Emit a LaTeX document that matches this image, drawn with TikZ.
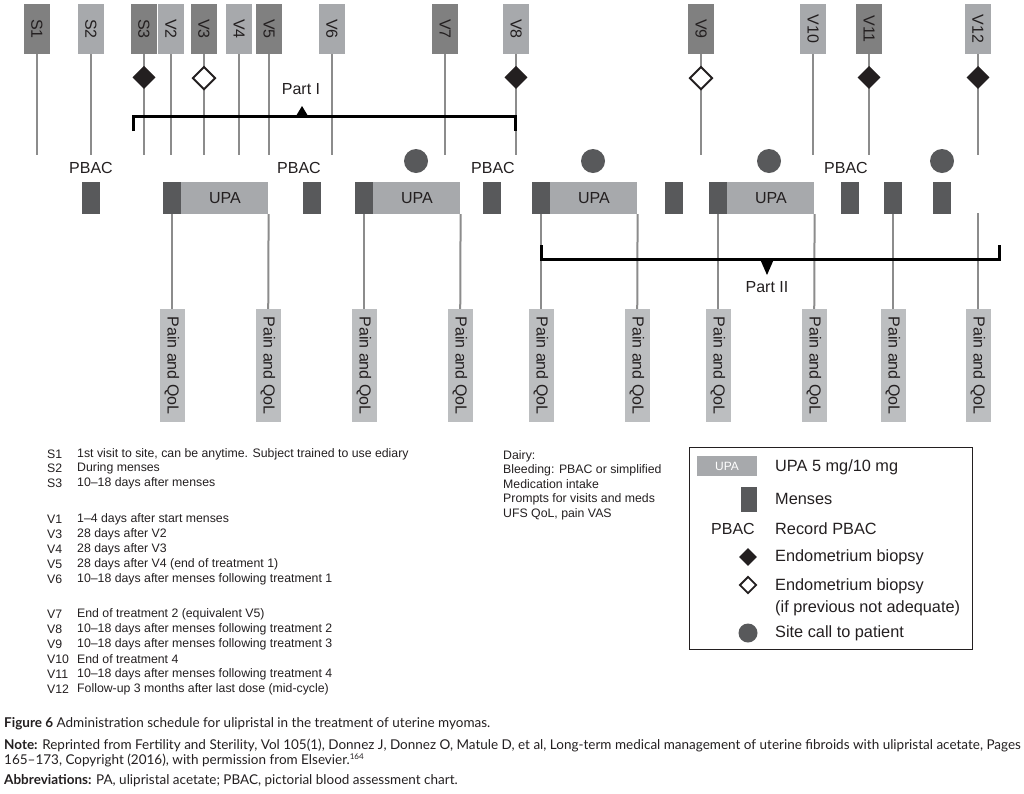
\documentclass[tikz,border=0pt]{standalone}
\usepackage{fontspec}
\setmainfont{Liberation Sans}
\newfontfamily\capfont[Ligatures=TeX]{Lato}
\usepackage{graphicx}
\usetikzlibrary{shapes.geometric,positioning}
\definecolor{visdark}{HTML}{808080}
\definecolor{vislight}{HTML}{A7A9AC}
\definecolor{upagray}{HTML}{A7A9AC}
\definecolor{mensgray}{HTML}{58595B}
\definecolor{painfill}{HTML}{BCBEC0}
\definecolor{stemgray}{HTML}{8C8C8C}
\definecolor{inkgray}{HTML}{231F20}
\begin{document}
\begin{tikzpicture}[x=1pt, y=-1pt,
	visit/.style={minimum width=26pt, minimum height=50pt, inner sep=0pt, text=inkgray, font=\fontsize{16}{16}\selectfont},
	stem/.style={draw=stemgray, line width=2pt},
	mens/.style={fill=mensgray, minimum width=18pt, minimum height=32pt, inner sep=0pt},
	upabox/.style={fill=upagray, minimum width=87pt, minimum height=32pt, inner sep=0pt, text=inkgray, font=\fontsize{16}{16}\selectfont},
	painbox/.style={fill=painfill, minimum width=25pt, minimum height=113pt, inner sep=0pt, text=inkgray, font=\fontsize{16}{16}\selectfont},
	biopsy/.style={diamond, fill=inkgray, minimum width=23pt, minimum height=23pt, inner sep=0pt},
	rebiopsy/.style={biopsy, fill=white, draw=inkgray, line width=1.9pt, minimum width=23pt, minimum height=23pt},
	call/.style={circle, fill=mensgray, minimum size=24pt, inner sep=0pt},
	pbac/.style={text=inkgray, font=\fontsize{16}{16}\selectfont, inner sep=0pt},
	bracket/.style={line width=3pt, black},
	small/.style={text=inkgray, font=\fontsize{12.3}{14.6}\selectfont, inner sep=0pt, anchor=west},
	legtext/.style={text=inkgray, font=\fontsize{16.3}{22}\selectfont, inner sep=0pt, anchor=west},
	captext/.style={text=inkgray, font=\capfont\fontsize{13.5}{15}\selectfont, inner sep=0pt, anchor=west},
]
	\useasboundingbox (0,0) rectangle (1024,793);
	\foreach \v/\x/\c in {S1/37/visdark, S2/91/vislight, S3/144/visdark, V2/171/vislight, V3/204/visdark, V4/239/vislight, V5/269/visdark, V6/332/vislight, V7/445/visdark, V8/516/vislight, V9/701/visdark, V10/813/vislight, V11/869/visdark, V12/978/vislight} {
		\node[visit, fill=\c] (\v) at (\x,29) {\rotatebox{-90}{\v}};
		\coordinate (\v-end) at (\x,155);
		\draw[stem] (\v) -- (\v-end);
	}
	\foreach \v in {S3, V8, V11, V12}
		\node[biopsy, below=11.5pt of \v] (bx-\v) {};
	\foreach \v in {V3, V9}
		\node[rebiopsy, below=11.5pt of \v] (bx-\v) {};
	\draw[bracket] (133,131) -- (133,116) -- (515,116) -- (515,131);
	\fill (296,116) -- (302,106) -- (308,116) -- cycle;
	\node[pbac] (part1) at (301,89) {Part I};

	\foreach \i/\x in {1/91, 2/172, 3/312, 4/364, 5/492, 6/541, 7/674, 8/718, 9/850, 10/893, 11/942}
		\node[mens] (m\i) at (\x,198) {};
	\foreach \i/\m in {1/2, 2/4, 3/6, 4/8}
		\node[upabox, right=0pt of m\m] (upa\i) {UPA};
	\foreach \i/\x in {1/416, 2/593, 3/769, 4/942}
		\node[call] (c\i) at (\x,161) {};
	\foreach \i/\x in {1/91, 2/299, 3/493, 4/846}
		\node[pbac] (p\i) at (\x,168) {PBAC};

	\foreach \i/\x in {1/172, 2/268, 3/364, 4/460, 5/541, 6/637, 7/718, 8/814, 9/893, 10/978}
		\node[painbox] (q\i) at (\x,365.5) {\rotatebox{-90}{Pain and QoL}};
	\coordinate (V12-low) at (978,213);
	\draw[stem] (m2) -- (q1);
	\draw[stem] (upa1.south east) -- (q2);
	\draw[stem] (m4) -- (q3);
	\draw[stem] (upa2.south east) -- (q4);
	\draw[stem] (m6) -- (q5);
	\draw[stem] (upa3.south east) -- (q6);
	\draw[stem] (m8) -- (q7);
	\draw[stem] (upa4.south east) -- (q8);
	\draw[stem] (m10) -- (q9);
	\draw[stem] (V12-low) -- (q10);
	\draw[bracket] (541,245) -- (541,259) -- (999,259) -- (999,245);
	\fill (760,259) -- (767,275) -- (774,259) -- cycle;
	\node[pbac] (part2) at (767,287) {Part II};

	\foreach \k/\y/\t in {S1/454/{1st visit to site, can be anytime. Subject trained to use ediary}, S2/468/During menses, S3/483/10--18 days after menses, V1/519/1--4 days after start menses, V3/534/28 days after V2, V4/549/28 days after V3, V5/564/28 days after V4 (end of treatment 1), V6/579/10--18 days after menses following treatment 1, V7/614/End of treatment 2 (equivalent V5), V8/629/10--18 days after menses following treatment 2, V9/644/10--18 days after menses following treatment 3, V10/659/End of treatment 4, V11/674/10--18 days after menses following treatment 4, V12/689/Follow-up 3 months after last dose (mid-cycle)} {
		\node[small] (key-\k) at (47,\y) {\k};
		\node[small] (txt-\k) at (77,\y) {\t};
	}
	\node[small, anchor=north west, align=left] (diary) at (503,450) {Dairy:\\Bleeding: PBAC or simplified\\Medication intake\\Prompts for visits and meds\\UFS QoL, pain VAS};

	\draw[inkgray, line width=0.8pt] (689,447) rectangle (972,649);
	\node[fill=upagray, minimum width=60pt, minimum height=20pt, inner sep=0pt, text=white, font=\fontsize{12}{12}\selectfont] (k1) at (727,466) {UPA};
	\node[legtext] (t1) at (775,467) {UPA 5 mg/10 mg};
	\node[mens, minimum width=16pt, minimum height=25pt] (k2) at (749,499) {};
	\node[legtext] (t2) at (775,499) {Menses};
	\node[pbac] (k3) at (733,529) {PBAC};
	\node[legtext] (t3) at (775,529) {Record PBAC};
	\node[biopsy, minimum width=18pt, minimum height=18pt] (k4) at (748,557) {};
	\node[legtext] (t4) at (775,557) {Endometrium biopsy};
	\node[rebiopsy, minimum width=17pt, minimum height=17pt] (k5) at (748,585) {};
	\node[legtext, align=left, anchor=north west] (t5) at (775,578) {Endometrium biopsy\\(if previous not adequate)};
	\node[call, minimum size=19pt] (k6) at (748,633) {};
	\node[legtext] (t6) at (775,633) {Site call to patient};

	\node[captext] (cap1) at (4,724) {\textbf{Figure 6} Administration schedule for ulipristal in the treatment of uterine myomas.};
	\node[captext] (cap2) at (4,745) {\textbf{Note:} Reprinted from Fertility and Sterility, Vol 105(1), Donnez J, Donnez O, Matule D, et al, Long-term medical management of uterine fibroids with ulipristal acetate, Pages};
	\node[captext] (cap3) at (4,760) {165--173, Copyright (2016), with permission from Elsevier.\textsuperscript{\fontsize{8}{8}\selectfont 164}};
	\node[captext] (cap4) at (4,781) {\textbf{Abbreviations:} PA, ulipristal acetate; PBAC, pictorial blood assessment chart.};
\end{tikzpicture}
\end{document}
